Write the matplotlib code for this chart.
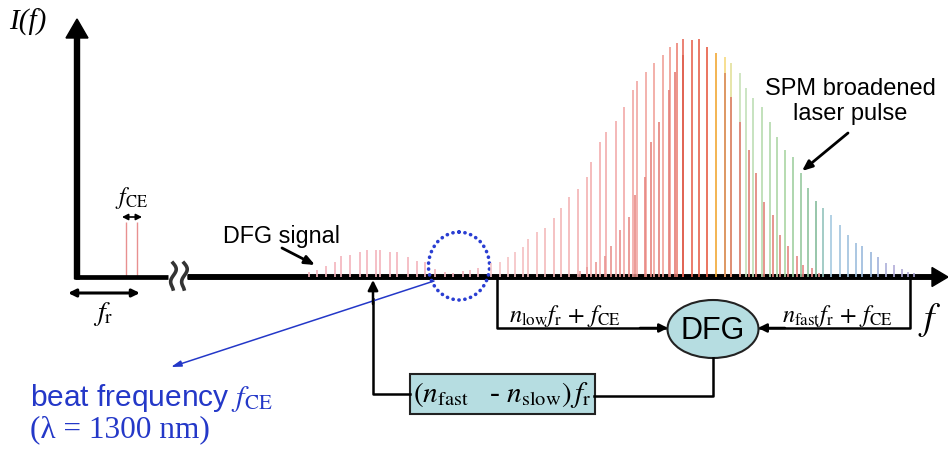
import numpy as np
import matplotlib
matplotlib.use("Agg")
import matplotlib.pyplot as plt
from matplotlib.patches import Ellipse, FancyArrow, Rectangle
from matplotlib.colors import LinearSegmentedColormap

plt.rcParams['mathtext.fontset'] = 'stix'

# baseline of the frequency axis (pixel rows, y grows downward)
base = 278

# carrier-envelope offset lines near zero frequency
fce_x = [126, 137]
fce_h = [55, 55]

# weak DFG signal comb
dfg_x = [309, 317, 326, 335, 341, 350, 360, 367, 376, 380, 390, 397, 408, 417,
         425, 435, 445, 453, 463, 470, 478]
dfg_h = [5, 7, 11, 15, 21, 22, 25, 27, 27, 27, 25, 25, 20, 16, 15, 8, 5, 4, 6, 7, 9]

# SPM broadened comb (tall envelope)
spm_x = [491, 500, 508, 515, 523, 528, 537, 545, 554, 561, 569, 578, 587, 591,
         600, 606, 616, 624, 633, 637, 646, 654, 663, 670, 677, 683, 692, 699,
         707, 716, 725, 731, 740, 746, 753, 762, 770, 777, 785, 793, 801, 808,
         816, 823, 831, 840, 848, 856, 862, 871, 878, 886, 894, 902, 908, 914]
spm_h = [14, 15, 20, 25, 30, 38, 45, 49, 59, 69, 80, 88, 100, 115, 135, 145,
         156, 170, 187, 196, 205, 214, 222, 230, 234, 238, 237, 238, 230, 224,
         220, 214, 204, 189, 179, 170, 155, 140, 127, 120, 104, 89, 76, 69, 62,
         52, 42, 34, 31, 25, 20, 14, 12, 8, 5, 4]

# second (shorter) comb drawn on top
sec_x = [580, 587, 596, 605, 611, 620, 629, 635, 645, 651, 659, 669, 675, 683,
         725, 731, 740, 749, 756, 764, 773, 780, 788, 797, 803, 812, 819]
sec_h = [6, 10, 15, 21, 31, 47, 60, 82, 100, 135, 155, 187, 205, 222, 204, 180,
         155, 127, 104, 75, 62, 42, 31, 21, 12, 9, 4]

fig = plt.figure(figsize=(9.48, 4.52), dpi=100)
ax = fig.add_axes([0, 0, 1, 1])
ax.set_xlim(0, 948)
ax.set_ylim(452, 0)
ax.axis('off')

# colours of the comb lines
spm_cmap = LinearSegmentedColormap.from_list('spm', [
    (0.00, '#f6c6c8'), (0.30, '#f2aaaa'), (0.42, '#f0a096'), (0.455, '#e86c5c'),
    (0.51, '#e85c44'), (0.53, '#f0a028'), (0.555, '#f6de86'), (0.59, '#c6e2bc'),
    (0.70, '#a8d4a2'), (0.77, '#84bc9c'), (0.80, '#a6cae0'), (0.90, '#98b6dc'),
    (0.95, '#b2acd8'), (1.00, '#a8a2d0')])
sec_cmap = LinearSegmentedColormap.from_list('sec', [
    (0.0, '#ec9c9c'), (0.4, '#e47c74'), (0.43, '#e06050'), (0.60, '#d8905a'),
    (0.64, '#e07c70'), (1.0, '#e88a8a')])

x0, x1 = min(spm_x), max(spm_x)
spm_c = [spm_cmap((x - x0) / (x1 - x0)) for x in spm_x]
s0, s1 = min(sec_x), max(sec_x)
sec_c = [sec_cmap((x - s0) / (s1 - s0)) for x in sec_x]

ax.vlines(dfg_x, [base - h for h in dfg_h], base, colors='#f4b4bc', lw=1.2)
ax.vlines(spm_x, [base - h for h in spm_h], base, colors=spm_c, lw=1.2)
ax.vlines(sec_x, [base - h for h in sec_h], base, colors=sec_c, lw=1.2)
ax.vlines(fce_x, [base - h for h in fce_h], base, colors='#e89090', lw=1.0)

# axes
ax.add_patch(FancyArrow(77, base + 2, 0, -(base + 2 - 20), width=5, head_width=22,
                        head_length=19, length_includes_head=True, color='black'))
ax.plot([75, 168], [base, base], color='black', lw=3.4, solid_capstyle='butt')
ax.add_patch(FancyArrow(188, base, 948 - 188, 0, width=4.5, head_width=19,
                        head_length=16, length_includes_head=True, color='black'))
# axis break squiggles
t = np.linspace(0, 1, 40)
for xb in [173, 184]:
    ax.plot(xb + 3.5 * np.sin(2 * np.pi * t) * (1 - t) ** 0.3, 264 + 26 * t,
            color='#333333', lw=2.6)

# f_CE and f_r markers
ax.annotate('', xy=(122, 218), xytext=(142, 218),
            arrowprops=dict(arrowstyle='<|-|>,head_width=0.18,head_length=0.35',
                            color='black', lw=1.2, shrinkA=0, shrinkB=0))
ax.text(131, 198, r'$f_{\rm CE}$', fontsize=17, ha='center', va='center')
ax.annotate('', xy=(68, 294), xytext=(140, 294),
            arrowprops=dict(arrowstyle='<|-|>,head_width=0.22,head_length=0.45',
                            color='black', lw=2.2, shrinkA=0, shrinkB=0))
ax.text(103, 314, r'$f_{\rm r}$', fontsize=20, ha='center', va='center')
ax.text(28, 22, 'I(f)', fontsize=21, ha='center', va='center',
        family='Liberation Serif', style='italic')

# annotations
sans = 'Liberation Sans'
ax.text(223, 243, 'DFG signal', fontsize=16.8, family=sans, va='baseline')
ax.annotate('', xy=(315, 266), xytext=(282, 249),
            arrowprops=dict(arrowstyle='-|>,head_width=0.25,head_length=0.6',
                            color='black', lw=2.0, shrinkA=0, shrinkB=0))
ax.text(850, 95, 'SPM broadened', fontsize=17, family=sans, ha='center', va='baseline')
ax.text(850, 120, 'laser pulse', fontsize=17, family=sans, ha='center', va='baseline')
ax.annotate('', xy=(802, 172), xytext=(848, 134),
            arrowprops=dict(arrowstyle='-|>,head_width=0.25,head_length=0.6',
                            color='black', lw=2.0, shrinkA=0, shrinkB=0))

# beat note circle and pointer
blue = '#2438c8'
ax.add_patch(Ellipse((459, 267), 61, 68, fill=False, ec='#2a3ed2', lw=2.6,
                     ls=(0, (0.05, 1.6)), capstyle='round'))
ax.annotate('', xy=(171, 368), xytext=(434, 282),
            arrowprops=dict(arrowstyle='-|>,head_width=0.18,head_length=0.6',
                            color=blue, lw=1.1, shrinkA=0, shrinkB=0))
ax.text(30, 406, r'beat frequency $f_{\rm CE}$', fontsize=21.5, family=sans,
        color=blue, va='baseline')
ax.text(30, 437, '(λ = 1300 nm)', fontsize=22.5, family='Liberation Serif',
        color=blue, va='baseline')

# DFG block diagram
fill = '#b6dde1'
ax.plot([497, 497, 665], [base, 329, 329], color='black', lw=1.8)
ax.annotate('', xy=(668, 329), xytext=(640, 329),
            arrowprops=dict(arrowstyle='-|>,head_width=0.25,head_length=0.5',
                            color='black', lw=1.8, shrinkA=0, shrinkB=0))
ax.plot([910, 910, 760], [base, 329, 329], color='black', lw=1.8)
ax.annotate('', xy=(758, 329), xytext=(785, 329),
            arrowprops=dict(arrowstyle='-|>,head_width=0.25,head_length=0.5',
                            color='black', lw=1.8, shrinkA=0, shrinkB=0))
ax.text(509, 322, r'$n_{\rm low}f_{\rm r}\,+\,f_{\rm CE}$', fontsize=17.5, va='baseline')
ax.text(782, 322, r'$n_{\rm fast}f_{\rm r}\,+\,f_{\rm CE}$', fontsize=17.5, va='baseline')
ax.text(930, 320, r'$f$', fontsize=27, ha='center', va='center')
ax.add_patch(Ellipse((713, 330), 91, 58, fc=fill, ec='#222222', lw=1.5))
ax.text(713, 331, 'DFG', fontsize=22, family=sans, ha='center', va='center')
ax.plot([713, 713, 594], [359, 397, 397], color='black', lw=1.8)
ax.add_patch(Rectangle((410, 375), 185, 40, fc=fill, ec='#222222', lw=1.5))
ax.text(502, 395, r'$(n_{\rm fast}$   - $n_{\rm slow})\,f_{\rm r}$', fontsize=21,
        family='Liberation Serif', ha='center', va='center')
ax.plot([410, 373, 373], [395, 395, 300], color='black', lw=1.8)
ax.annotate('', xy=(373, 281), xytext=(373, 305),
            arrowprops=dict(arrowstyle='-|>,head_width=0.3,head_length=0.6',
                            color='black', lw=1.8, shrinkA=0, shrinkB=0))

fig.savefig('out.png', dpi=100)
